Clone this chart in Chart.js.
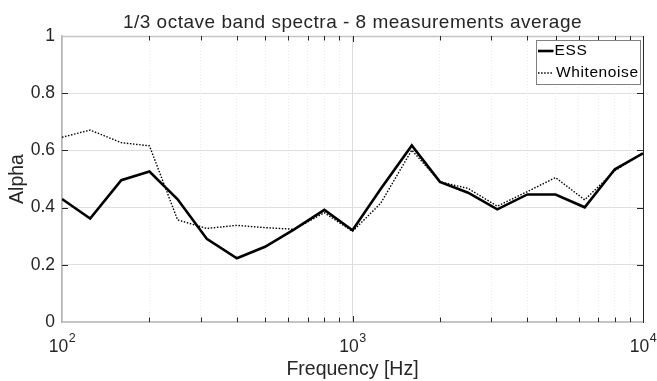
<!DOCTYPE html>
<html>
<head>
<meta charset="utf-8">
<script src="https://cdn.jsdelivr.net/npm/chart.js@4/dist/chart.umd.min.js"></script>
<style>
    html, body { margin: 0; padding: 0; background: #fff; }
    #wrap { width: 657px; height: 381px; }
</style>
</head>
<body>
<div id="wrap"><canvas id="spectraChart" width="657" height="381"></canvas></div>
<script>
// 1/3 octave band centre frequencies (Hz)
const frequencies = [100, 125, 160, 200, 250, 315, 400, 500, 630, 800, 1000,
    1250, 1600, 2000, 2500, 3150, 4000, 5000, 6300, 8000, 10000];
// absorption
const essAlpha = [0.430, 0.362, 0.496, 0.526, 0.429, 0.291, 0.223, 0.263, 0.324, 0.392, 0.321,
    0.465, 0.617, 0.490, 0.452, 0.394, 0.446, 0.446, 0.401, 0.534, 0.590];
const whitenoiseAlpha = [0.646, 0.671, 0.627, 0.616, 0.357, 0.327, 0.338, 0.330, 0.324, 0.382, 0.317,
    0.415, 0.601, 0.490, 0.467, 0.405, 0.456, 0.505, 0.427, 0.529, 0.592];
const seriesNames = ["ESS", "Whitenoise"];
const xDecades = [100, 1000, 10000];
const chartTitle = "1/3 octave band spectra - 8 measurements average";

const FONT = '"Liberation Sans", Arial, sans-serif';
const INK = "#262626";

// log axis: 1..9 per decade, like MATLAB
function logTickValues() {
    const vals = [];
    for (let d = xDecades[0]; d < xDecades[xDecades.length - 1]; d *= 10) {
        for (let m = 1; m < 10; m++) vals.push(d * m);
    }
    vals.push(xDecades[xDecades.length - 1]);
    return vals;
}

const isDecade = (v) => xDecades.includes(v);

// draws the MATLAB-ish bits: inward ticks, box, decade labels, title, legend
const matlabFrame = {
    id: "matlabFrame",
    afterDatasetsDraw(chart) {
        const { ctx, chartArea: a, scales: { x, y } } = chart;
        const line = (x1, y1, x2, y2) => {
            ctx.beginPath();
            ctx.moveTo(x1, y1);
            ctx.lineTo(x2, y2);
            ctx.stroke();
        };
        ctx.save();

        // top (gray) and right (dark) edges of the box
        ctx.lineWidth = 1.5;
        ctx.strokeStyle = "#c4c4c4";
        line(a.left, a.top + 0.5, a.right, a.top + 0.5);
        ctx.lineWidth = 1;
        ctx.strokeStyle = INK;
        line(a.right + 0.5, a.top, a.right + 0.5, a.bottom + 1);

        // inward tick marks
        x.ticks.forEach(t => {
            if (t.value <= x.min || t.value >= x.max) return;
            const px = Math.round(x.getPixelForValue(t.value)) + 0.5;
            const len = isDecade(t.value) ? 6 : 4.5;
            line(px, a.bottom, px, a.bottom - len);
            line(px, a.top, px, a.top + len);
        });
        y.ticks.forEach(t => {
            if (t.value <= y.min || t.value >= y.max) return;
            const py = Math.round(y.getPixelForValue(t.value)) + 0.5;
            line(a.left, py, a.left + 6, py);
            line(a.right, py, a.right - 6, py);
        });

        // decade labels 10^n
        ctx.fillStyle = INK;
        ctx.textBaseline = "alphabetic";
        ctx.textAlign = "left";
        xDecades.forEach(v => {
            const px = x.getPixelForValue(v);
            const exp = String(Math.round(Math.log10(v)));
            ctx.font = "17.5px " + FONT;
            const wBase = ctx.measureText("10").width;
            ctx.font = "12.5px " + FONT;
            const wExp = ctx.measureText(exp).width;
            const x0 = px - (wBase + wExp) / 2;
            ctx.font = "17.5px " + FONT;
            ctx.fillText("10", x0, 351.5);
            ctx.font = "12.5px " + FONT;
            ctx.fillText(exp, x0 + wBase + 0.5, 341.5);
        });

        // title
        ctx.font = "19px " + FONT;
        ctx.textAlign = "center";
        if ("letterSpacing" in ctx) ctx.letterSpacing = "0.5px";
        ctx.fillText(chartTitle, (a.left + a.right) / 2, 27.5);

        // legend box
        const bw = 104, bh = 44;
        const bx = Math.round(a.right - 3 - bw) + 0.5;
        const by = Math.round(a.top + 4) + 0.5;
        ctx.fillStyle = "#fff";
        ctx.fillRect(bx, by, bw, bh);
        ctx.strokeStyle = "#808080";
        ctx.lineWidth = 1;
        ctx.strokeRect(bx, by, bw, bh);
        ctx.font = "15.5px " + FONT;
        if ("letterSpacing" in ctx) ctx.letterSpacing = "0.6px";
        ctx.textAlign = "left";
        ctx.textBaseline = "middle";
        chart.data.datasets.forEach((ds, i) => {
            const ry = by + 10.5 + i * 22;
            ctx.strokeStyle = ds.borderColor;
            ctx.lineWidth = ds.borderWidth;
            ctx.setLineDash(ds.borderDash || []);
            line(bx + 1.5, ry, bx + 17, ry);
            ctx.setLineDash([]);
            ctx.fillStyle = "#000";
            ctx.fillText(ds.label, bx + 18 + i * 1.5, ry);
        });

        ctx.restore();
    }
};

document.addEventListener("DOMContentLoaded", () => {
    const canvas = document.getElementById("spectraChart");
    if (!canvas) return;

    const toPoints = (vals) => frequencies.map((f, i) => ({ x: f, y: vals[i] }));

    new Chart(canvas.getContext("2d"), {
        type: "line",
        data: {
            datasets: [
                {
                    label: seriesNames[0],
                    data: toPoints(essAlpha),
                    borderColor: "#000",
                    borderWidth: 2.6,
                    pointRadius: 0,
                    tension: 0,
                    fill: false
                },
                {
                    label: seriesNames[1],
                    data: toPoints(whitenoiseAlpha),
                    borderColor: "#000",
                    borderWidth: 1.4,
                    borderDash: [1.5, 1.6],
                    pointRadius: 0,
                    tension: 0,
                    fill: false
                }
            ]
        },
        options: {
            responsive: false,
            animation: false,
            devicePixelRatio: 1,
            layout: { padding: { top: 36, right: 14, left: 0, bottom: 0 } },
            plugins: {
                legend: { display: false },
                title: { display: false },
                tooltip: { enabled: false }
            },
            scales: {
                x: {
                    type: "logarithmic",
                    min: 100,
                    max: 10000,
                    afterBuildTicks: (scale) => {
                        scale.ticks = logTickValues().map(v => ({ value: v, major: isDecade(v) }));
                    },
                    afterFit: (scale) => { scale.height = 59; },
                    ticks: { display: false },
                    grid: {
                        drawTicks: false,
                        lineWidth: 1,
                        color: (c) => (c.tick && isDecade(c.tick.value)) ? "#dcdcdc" : "#ebebeb"
                    },
                    border: {
                        display: true,
                        color: "#c4c4c4",
                        width: 2,
                        dash: (c) => (c.tick && !isDecade(c.tick.value)) ? [1, 2] : []
                    },
                    title: {
                        display: true,
                        text: "Frequency [Hz]",
                        color: INK,
                        font: { family: FONT, size: 19.5 },
                        padding: { top: 0, bottom: 0 }
                    }
                },
                y: {
                    min: 0,
                    max: 1,
                    afterFit: (scale) => { scale.width = 62; },
                    ticks: {
                        stepSize: 0.2,
                        color: INK,
                        padding: 7,
                        font: { family: FONT, size: 17.5 },
                        callback: (v) => String(Math.round(v * 10) / 10)
                    },
                    grid: { drawTicks: false, color: "#dfdfdf", lineWidth: 1 },
                    border: { display: true, color: "#b4b4b4", width: 1.5 },
                    title: {
                        display: true,
                        text: "Alpha",
                        color: INK,
                        font: { family: FONT, size: 19.5 },
                        padding: { top: 6, bottom: 0 }
                    }
                }
            }
        },
        plugins: [matlabFrame]
    });
});
</script>
</body>
</html>
